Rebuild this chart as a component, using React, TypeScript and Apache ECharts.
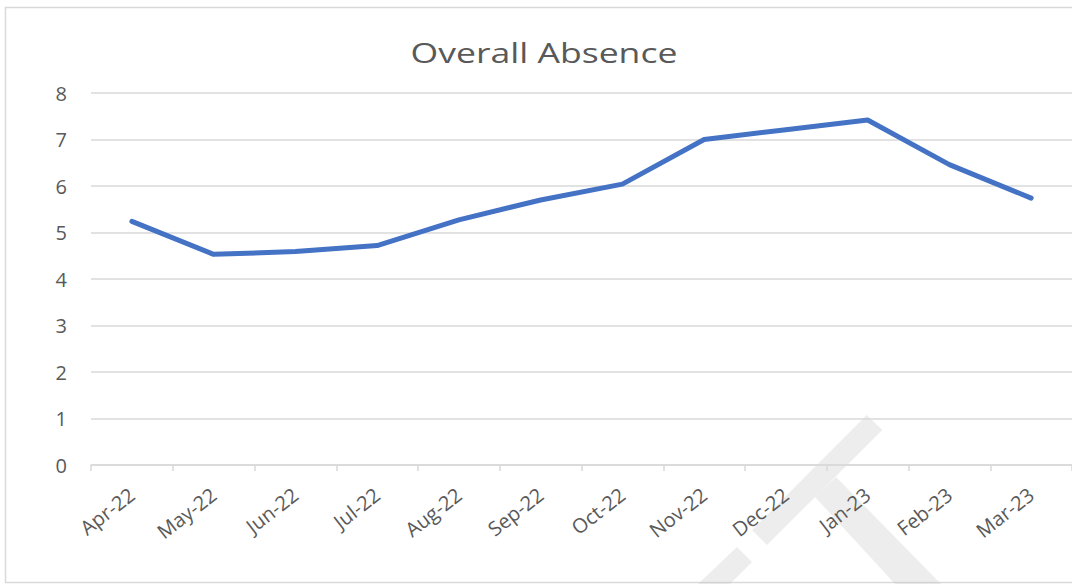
import React, { useEffect, useRef } from "react";
import * as echarts from "echarts";

const categories = ["Apr-22", "May-22", "Jun-22", "Jul-22", "Aug-22", "Sep-22", "Oct-22", "Nov-22", "Dec-22", "Jan-23", "Feb-23", "Mar-23"];
const absence = [5.24, 4.53, 4.59, 4.72, 5.27, 5.7, 6.04, 7.0, 7.21, 7.42, 6.46, 5.74];
const yTicks = { min: 0, max: 8, interval: 1 };
const titleText = "Overall Absence";

export default function App() {
  const ref = useRef<HTMLDivElement>(null);
  useEffect(() => {
    if (!ref.current) return;
    const chart = echarts.init(ref.current, null, { renderer: "svg" });
    const font = "'Open Sans', 'Noto Sans', sans-serif";
    chart.setOption({
      animation: false,
      backgroundColor: "#ffffff",
      grid: { left: 91, right: 0, top: 93, bottom: 119, containLabel: false },
      xAxis: {
        type: "category",
        data: categories,
        boundaryGap: true,
        axisLine: { show: true, lineStyle: { color: "#d9d9d9", width: 1.5 } },
        axisTick: { show: true, alignWithLabel: false, length: 6, lineStyle: { color: "#d9d9d9", width: 1.5 } },
        axisLabel: { rotate: 38, margin: 27, color: "#595959", fontSize: 20, fontFamily: font, interval: 0 },
        splitLine: { show: false },
      },
      yAxis: {
        type: "value",
        min: yTicks.min,
        max: yTicks.max,
        interval: yTicks.interval,
        axisLine: { show: false },
        axisTick: { show: false },
        axisLabel: { margin: 24, color: "#595959", fontSize: 20, fontFamily: font },
        splitLine: { lineStyle: { color: "#d9d9d9", width: 1.5 } },
      },
      graphic: [
        {
          type: "rect",
          z: -10,
          silent: true,
          shape: { x: 5.5, y: 7.5, width: 1100, height: 575 },
          style: { fill: "none", stroke: "#d9d9d9", lineWidth: 1.5 },
        },
        {
          type: "polygon",
          z: -5,
          silent: true,
          shape: { points: [[866.7, 415], [882.3, 430], [767, 545], [752, 530]] },
          style: { fill: "rgba(200,200,200,0.33)" },
        },
        {
          type: "polygon",
          z: -5,
          silent: true,
          shape: { points: [[836, 477], [941, 584], [895, 584], [815, 497]] },
          style: { fill: "rgba(200,200,200,0.33)" },
        },
        {
          type: "polygon",
          z: -5,
          silent: true,
          shape: { points: [[737, 547], [752, 562], [730, 584], [698, 584]] },
          style: { fill: "rgba(200,200,200,0.33)" },
        },
        {
          type: "text",
          x: 544,
          y: 52,
          scaleX: 1.27,
          scaleY: 1,
          silent: true,
          style: {
            text: titleText,
            x: 0,
            y: 0,
            textAlign: "center",
            textVerticalAlign: "middle",
            fill: "#595959",
            font: "28px 'Open Sans', 'Noto Sans', sans-serif",
          },
        },
      ],
      series: [
        {
          type: "line",
          data: absence,
          showSymbol: false,
          symbol: "none",
          lineStyle: { color: "#4472C4", width: 5, cap: "round", join: "round" },
          itemStyle: { color: "#4472C4" },
        },
      ],
    });
    return () => chart.dispose();
  }, []);
  return (
    <div style={{ position: "fixed", left: 0, top: 0, width: 1072, height: 584, overflow: "hidden", background: "#fff" }}>
      <div ref={ref} style={{ width: 1072, height: 584 }} />
    </div>
  );
}
